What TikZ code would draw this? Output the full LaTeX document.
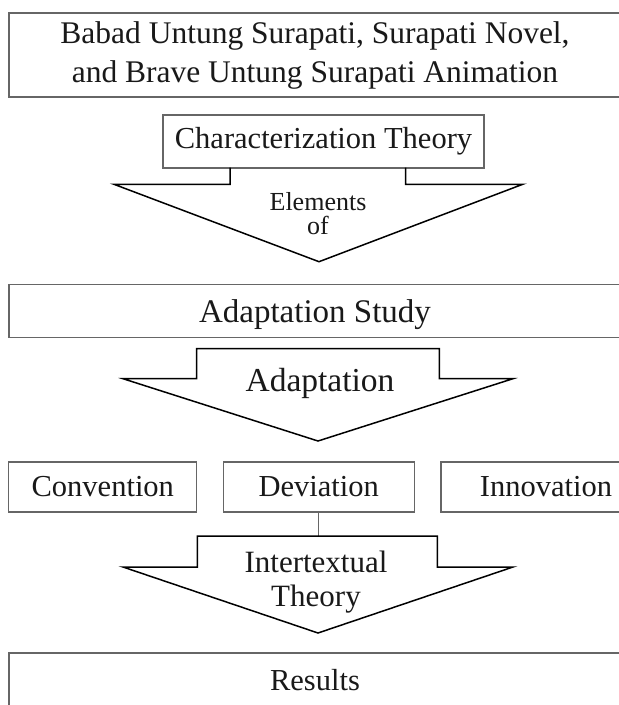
\documentclass[tikz,border=0pt]{standalone}
\usepackage{fontspec}
\setmainfont{Liberation Serif}
\usetikzlibrary{positioning}

\begin{document}
\begin{tikzpicture}[x=1pt,y=-1pt]

			\tikzstyle{every node}=[font=\fontsize{30.5}{39}\selectfont, text=black!90]
			\tikzstyle{box}=[draw=black!60, line width=1.2pt, inner sep=0pt, align=center]
			\tikzstyle{blockarrow}=[draw=black, line width=1.5pt, line join=miter]
			\useasboundingbox[fill=white] (0,0) rectangle (619,705);

			\node[box, minimum width=612pt, minimum height=84pt, font=\fontsize{31.5}{39}\selectfont] (source) at (315,55) {Babad Untung Surapati, Surapati Novel,\\ and Brave Untung Surapati Animation};
			\node[box, minimum width=321pt, minimum height=53pt] (charth) at (323.5,141.5) {Characterization Theory};

			\begin{scope}[shift={(319,0)}]
			\draw[blockarrow] (-89,167.7) -- (-89,184.3) -- (-205,184.3) -- (0,261.7) -- (203.7,184.3) -- (86.7,184.3) -- (86.7,167.7);
			\end{scope}
			\node[font=\fontsize{26}{24}\selectfont, align=center] (elements) at (318,214) {Elements\\of};

			\node[box, minimum width=612pt, minimum height=52.5pt, text depth=0pt, font=\fontsize{33}{39}\selectfont] (adstudy) at (315,311) {Adaptation Study};

			\begin{scope}[shift={(318,0)}]
			\draw[blockarrow] (-121.3,348.5) -- (121.4,348.5) -- (121.4,378.7) -- (195,378.7) -- (0,441) -- (-195,378.7) -- (-121.3,378.7) -- cycle;
			\end{scope}
			\node[text depth=0pt, font=\fontsize{33.5}{39}\selectfont] (adapt) at (320,380) {Adaptation};

			\node[box, minimum width=188pt, minimum height=50pt] (conv) at (102.8,487) {Convention};
			\node[box, minimum width=191pt, minimum height=50pt] (dev) at (318.8,487) {Deviation};
			\node[box, minimum width=210pt, minimum height=50pt] (innov) at (546,487) {Innovation};

			\coordinate (intertop) at (318.8,536);
			\draw[draw=black!60, line width=1.2pt] (dev.south) -- (intertop);

			\begin{scope}[shift={(318,0)}]
			\draw[blockarrow] (-120.6,536) -- (119.4,536) -- (119.4,567) -- (195,567) -- (0,633) -- (-195,567) -- (-120.6,567) -- cycle;
			\end{scope}
			\node[align=center, font=\fontsize{31}{34}\selectfont] (intertext) at (316,582) {Intertextual\\Theory};

			\node[box, minimum width=612pt, minimum height=54pt] (results) at (315,680) {Results};

\end{tikzpicture}
\end{document}
